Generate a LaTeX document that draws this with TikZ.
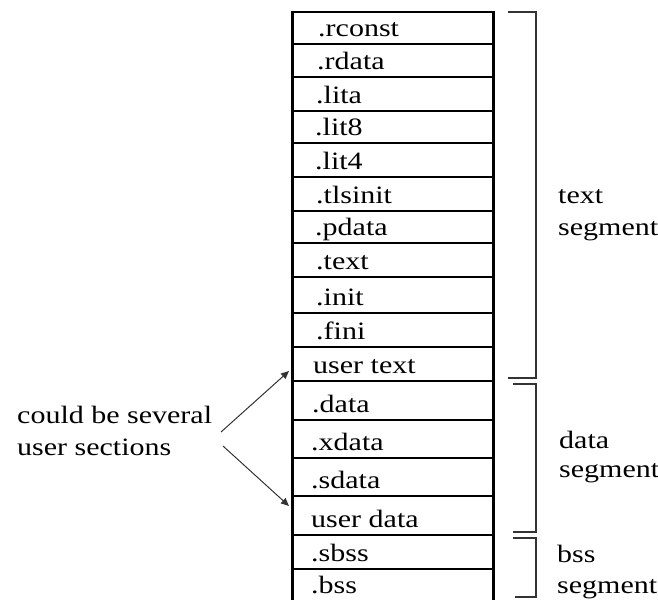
\documentclass[tikz,border=0pt]{standalone}
\usepackage{fontspec}
\setmainfont{Liberation Serif}[FakeStretch=1.2]
\usetikzlibrary{arrows.meta}

\begin{document}
\begin{tikzpicture}[x=1pt,y=-1pt,
  every node/.style={inner sep=0pt},
  lbl/.style={anchor=base west, font=\fontsize{25}{30}\selectfont},
  rowline/.style={line width=1.8pt},
  thinrow/.style={line width=1.1pt},
  border/.style={line width=3pt},
  brace/.style={line width=1.5pt, draw=black!80},
  conn/.style={line width=1pt, draw=black!80, -{Triangle[length=8pt,width=7pt]}}]
\useasboundingbox (0,0) rectangle (658,600);

% section table: outer borders
\draw[line width=2.5pt] (291,12) -- (494,12);
\draw[border] (292,10.8) -- (292,600);
\draw[border] (493,10.8) -- (493,600);

% row separators
\foreach \y in {44,111,177,211,243,277,313,347,381,420,458,496,535,569}
  \draw[rowline] (292,\y) -- (493,\y);
\foreach \y in {77,143}
  \draw[thinrow] (292,\y) -- (493,\y);

% section names (baseline 8 above the row's lower edge)
\foreach \n/\x/\b/\t in {s1/318/36/.rconst, s2/317/69/.rdata, s3/316/103/.lita,
    s4/315/135/.lit8, s5/315/169/.lit4, s6/316/203/.tlsinit, s7/315/235/.pdata,
    s8/316/269/.text, s9/316/305/.init, s10/316/339/.fini, s11/313/373/user text,
    s12/312/412/.data, s13/311/450/.xdata, s14/311/488/.sdata,
    s15/311/527/user data, s16/311/561/.sbss, s17/311/593/.bss}
  \node[lbl] (\n) at (\x,\b) {\t};

% segment brackets
\draw[brace] (508,12) -- (536,12) -- (536,378) -- (508,378);
\draw[brace] (513,384) -- (536,384) -- (536,532) -- (513,532);
\draw[brace] (513,538) -- (536,538) -- (536,597) -- (515,597);

% segment labels
\node[lbl] (tseg1) at (558,203) {text};
\node[lbl] (tseg2) at (558,235) {segment};
\node[lbl] (dseg1) at (559,448) {data};
\node[lbl] (dseg2) at (559,477) {segment};
\node[lbl] (bseg1) at (557,562) {bss};
\node[lbl] (bseg2) at (557,593) {segment};

% note with arrows into the user sections
\node[lbl] (note1) at (17,423) {could be several};
\node[lbl] (note2) at (17,455) {user sections};
\coordinate (forka) at (221,432);
\coordinate (forkb) at (223,446);
\coordinate (usertext) at (289,371);
\coordinate (userdata) at (289,506);
\draw[conn] (forka) -- (usertext);
\draw[conn] (forkb) -- (userdata);
\end{tikzpicture}
\end{document}
